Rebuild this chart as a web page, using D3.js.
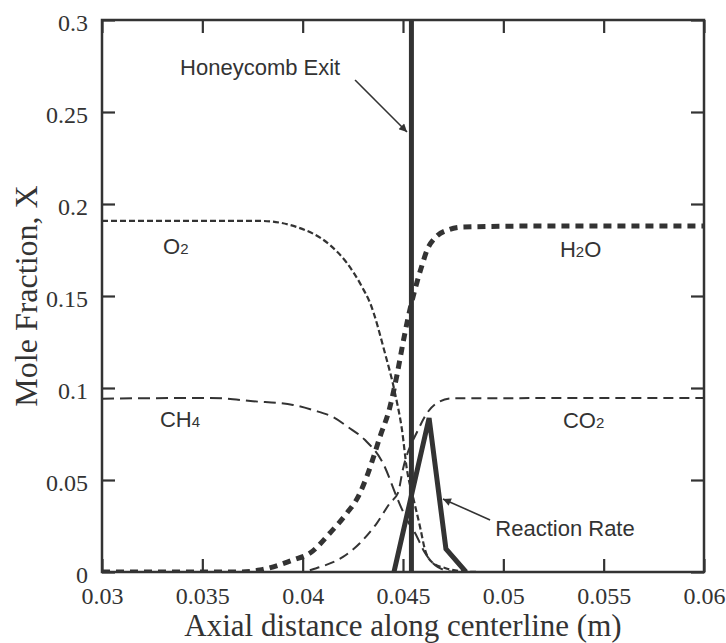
<!DOCTYPE html>
<html>
<head>
<meta charset="utf-8">
<script src="https://cdn.jsdelivr.net/npm/d3@7"></script>
<style>
  body { margin: 0; background: #fff; }
  svg { display: block; }
</style>
</head>
<body>
<svg id="chart" width="726" height="643"></svg>
<script>
// Axis ticks
const xTicks = [0.03, 0.035, 0.04, 0.045, 0.05, 0.055, 0.06];
const xTickLabels = ["0.03", "0.035", "0.04", "0.045", "0.05", "0.055", "0.06"];
const yTicks = [0, 0.05, 0.1, 0.15, 0.2, 0.25, 0.3];
const yTickLabels = ["0", "0.05", "0.1", "0.15", "0.2", "0.25", "0.3"];

// Species mole fractions along the centerline: [axial distance (m), X]
const o2 = [
  [0.0300, 0.1908], [0.0379, 0.1908], [0.0397, 0.1875], [0.04136, 0.1777],
  [0.04221, 0.1679], [0.04296, 0.1549], [0.04336, 0.1462], [0.04410, 0.1190],
  [0.04460, 0.0973], [0.04495, 0.0772], [0.04520, 0.0554], [0.04550, 0.0408],
  [0.04585, 0.0245], [0.04610, 0.0120], [0.04649, 0.0049], [0.04709, 0.0022],
  [0.04784, 0.0005], [0.04884, 0.0], [0.0600, 0.0]
];
const ch4 = [
  [0.0300, 0.0942], [0.03538, 0.0946], [0.03752, 0.0928], [0.03952, 0.0908],
  [0.04051, 0.0880], [0.04151, 0.0842], [0.04226, 0.0788], [0.04311, 0.0717],
  [0.04400, 0.0592], [0.04475, 0.0391], [0.04520, 0.0283], [0.04560, 0.0212],
  [0.04610, 0.0103], [0.04674, 0.0027], [0.0476, 0.0], [0.0600, 0.0]
];
const co2 = [
  [0.0300, 0.0], [0.03987, 0.0], [0.04071, 0.0022], [0.04201, 0.0082],
  [0.04286, 0.0158], [0.04370, 0.0266], [0.04435, 0.0375], [0.04475, 0.0430],
  [0.04500, 0.0560], [0.04575, 0.0772], [0.04620, 0.0864], [0.04669, 0.0918],
  [0.04744, 0.0944], [0.0600, 0.0946]
];
const h2o = [
  [0.0300, 0.0], [0.03688, 0.0], [0.03787, 0.0011], [0.03952, 0.0065],
  [0.04037, 0.0103], [0.04136, 0.0212], [0.04221, 0.0321], [0.04276, 0.0408],
  [0.04326, 0.0538], [0.04385, 0.0734], [0.04435, 0.0897], [0.04470, 0.1071],
  [0.04500, 0.1245], [0.04525, 0.1380], [0.04550, 0.1495], [0.04570, 0.1576],
  [0.04595, 0.1668], [0.04620, 0.1750], [0.04659, 0.1815], [0.04724, 0.1859],
  [0.04799, 0.1875], [0.05133, 0.1880], [0.0600, 0.1880]
];
// Normalised reaction rate
const reactionRate = [[0.04455, 0.0], [0.04630, 0.0837], [0.04714, 0.0125], [0.04814, 0.0]];
// Honeycomb exit position (m)
const honeycombExit = 0.04542;

const svg = d3.select("#chart");
const W = 726, H = 643;
const margin = { top: 20, right: 22, bottom: 71, left: 102 };
const iw = W - margin.left - margin.right;
const ih = H - margin.top - margin.bottom;
const ink = "#333";

const x = d3.scaleLinear().domain([0.03, 0.06]).range([0, iw]);
const y = d3.scaleLinear().domain([0, 0.3]).range([ih, 0]);

const defs = svg.append("defs");
defs.append("clipPath").attr("id", "plot-clip")
  .append("rect").attr("width", iw).attr("height", ih);
defs.append("marker")
  .attr("id", "arrow").attr("viewBox", "0 0 10 10")
  .attr("refX", 10).attr("refY", 5)
  .attr("markerWidth", 11).attr("markerHeight", 8)
  .attr("markerUnits", "userSpaceOnUse")
  .attr("orient", "auto")
  .append("path").attr("d", "M0,0 L10,5 L0,10 Z").attr("fill", ink);

const g = svg.append("g").attr("transform", `translate(${margin.left},${margin.top})`);

// Axes with inward ticks
const tickLen = 13;
const fmtX = (d, i) => xTickLabels[i];
const fmtY = (d, i) => yTickLabels[i];

const axB = g.append("g").attr("transform", `translate(0,${ih})`)
  .call(d3.axisBottom(x).tickValues(xTicks).tickFormat(fmtX).tickSizeInner(-tickLen).tickSizeOuter(0).tickPadding(15));
const axL = g.append("g")
  .call(d3.axisLeft(y).tickValues(yTicks).tickFormat(fmtY).tickSizeInner(-tickLen).tickSizeOuter(0).tickPadding(14));
const axT = g.append("g")
  .call(d3.axisTop(x).tickValues(xTicks).tickFormat("").tickSizeInner(-tickLen).tickSizeOuter(0));
const axR = g.append("g").attr("transform", `translate(${iw},0)`)
  .call(d3.axisRight(y).tickValues(yTicks).tickFormat("").tickSizeInner(-tickLen).tickSizeOuter(0));

[axB, axL, axT, axR].forEach(a => {
  a.select(".domain").remove();
  a.selectAll(".tick line").attr("stroke", ink).attr("stroke-width", 2.2);
  a.selectAll(".tick text")
    .attr("fill", ink)
    .attr("font-family", "'Liberation Serif', 'Times New Roman', serif")
    .attr("font-size", 24);
});
axL.selectAll(".tick text").attr("dy", "0.42em");

// Curves
const line = d3.line().x(d => x(d[0])).y(d => y(d[1])).curve(d3.curveMonotoneX);
const plot = g.append("g").attr("clip-path", "url(#plot-clip)");

const series = [
  { data: ch4, width: 2, dash: "12,6" },
  { data: co2, width: 2, dash: "10,6" },
  { data: o2, width: 2.2, dash: "6,3" },
  { data: h2o, width: 5, dash: "8,6" }
];
series.forEach(s => {
  plot.append("path").datum(s.data)
    .attr("d", line)
    .attr("fill", "none")
    .attr("stroke", ink)
    .attr("stroke-width", s.width)
    .attr("stroke-dasharray", s.dash);
});

// Reaction rate (piecewise linear)
plot.append("path").datum(reactionRate)
  .attr("d", d3.line().x(d => x(d[0])).y(d => y(d[1])))
  .attr("fill", "none").attr("stroke", ink)
  .attr("stroke-width", 5).attr("stroke-linejoin", "miter");

// Honeycomb exit marker
g.append("line")
  .attr("x1", x(honeycombExit)).attr("x2", x(honeycombExit))
  .attr("y1", y(0.3)).attr("y2", y(0))
  .attr("stroke", ink).attr("stroke-width", 5);

// Plot frame
g.append("rect").attr("width", iw).attr("height", ih)
  .attr("fill", "none").attr("stroke", ink).attr("stroke-width", 2.5);

// Annotations
const sans = "'Liberation Sans', Arial, sans-serif";
function label(txt, sub, rest, xv, yv) {
  const t = g.append("text")
    .attr("x", x(xv)).attr("y", y(yv))
    .attr("font-family", sans).attr("font-size", 22).attr("fill", ink);
  t.append("tspan").text(txt);
  if (sub) t.append("tspan").attr("font-size", 15).text(sub);
  if (rest) t.append("tspan").text(rest);
}
label("O", "2", "", 0.03304, 0.1728);
label("CH", "4", "", 0.03289, 0.0788);
label("H", "2", "O", 0.05282, 0.1712);
label("CO", "2", "", 0.05297, 0.0783);
label("Honeycomb Exit", "", "", 0.03389, 0.2701);
label("Reaction Rate", "", "", 0.04960, 0.0196);

function arrow(x1, y1, x2, y2) {
  g.append("line")
    .attr("x1", x(x1)).attr("y1", y(y1))
    .attr("x2", x(x2)).attr("y2", y(y2))
    .attr("stroke", ink).attr("stroke-width", 1.6)
    .attr("marker-end", "url(#arrow)");
}
arrow(0.04261, 0.2674, 0.04520, 0.2391);
arrow(0.04934, 0.0283, 0.04699, 0.0397);

// Axis titles
const serif = "'Liberation Serif', 'Times New Roman', serif";
svg.append("text")
  .attr("x", margin.left + iw / 2).attr("y", 636)
  .attr("text-anchor", "middle")
  .attr("font-family", serif).attr("font-size", 31).attr("fill", ink)
  .text("Axial distance along centerline (m)");
svg.append("text")
  .attr("transform", `translate(37,${margin.top + ih / 2}) rotate(-90)`)
  .attr("text-anchor", "middle")
  .attr("font-family", serif).attr("font-size", 32).attr("fill", ink)
  .text("Mole Fraction, X");
</script>
</body>
</html>
